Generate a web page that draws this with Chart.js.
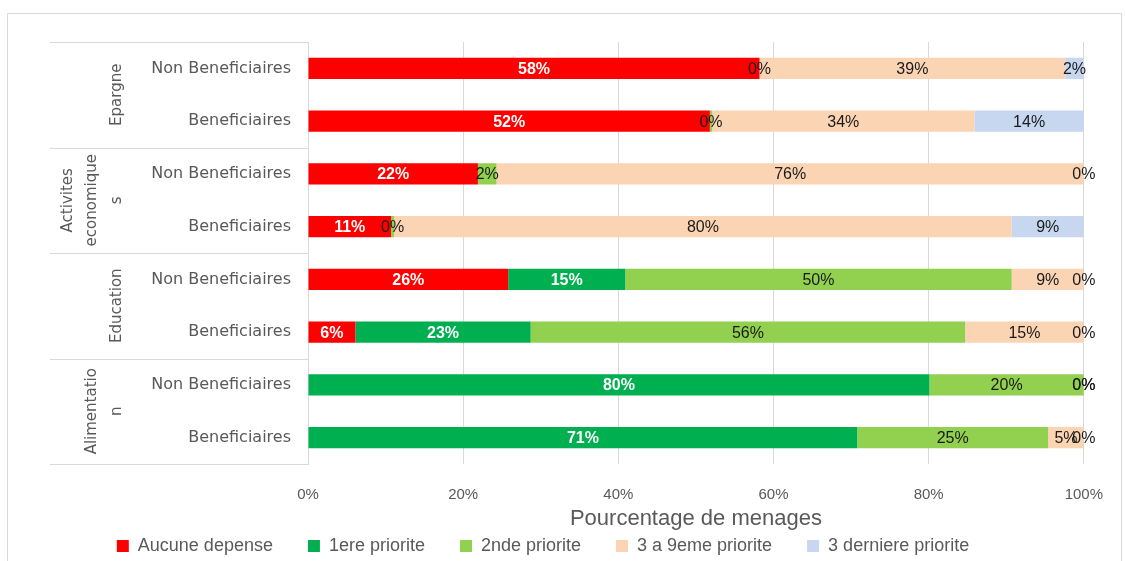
<!DOCTYPE html>
<html>
<head>
<meta charset="utf-8">
<script src="https://cdn.jsdelivr.net/npm/chart.js@4.4.1/dist/chart.umd.min.js"></script>
<style>
  html, body { margin: 0; padding: 0; background: #fff; }
  #wrap { width: 1125px; height: 561px; position: relative; }
</style>
</head>
<body>
<div id="wrap"><canvas id="prioChart" width="1125" height="561"></canvas></div>
<script>
// categories (top to bottom)
var rows = ['Non Beneficiaires', 'Beneficiaires', 'Non Beneficiaires', 'Beneficiaires',
            'Non Beneficiaires', 'Beneficiaires', 'Non Beneficiaires', 'Beneficiaires'];
var groups = [['Epargne'], ['Activites', 'economique', 's'], ['Education'], ['Alimentatio', 'n']];
var groupSize = 2;

// series values (% of households)
var aucune   = [58.2, 51.8, 21.9, 10.7, 25.8,  6.1, null, null];
var prio1    = [null, null, null, null, 15.1, 22.6, 80.1, 70.8];
var prio2    = [0,    0.3,  2.4,  0.4,  49.8, 56.0, 19.9, 24.6];
var prio3a9  = [39.4, 33.8, 75.7, 79.6,  9.3, 15.3, 0,    4.6];
var derniere = [2.4,  14.1, 0,    9.3,   0,    0,   0,    0];

var seriesNames = ['Aucune depense', '1ere priorite', '2nde priorite', '3 a 9eme priorite', '3 derniere priorite'];
var seriesColors = ['#FF0000', '#00B050', '#92D050', '#FBD4B4', '#C6D7EF'];
var xTicks = [0, 20, 40, 60, 80, 100];

var sans = "'Liberation Sans', sans-serif";
var gray = '#595959';
var lineGray = '#d9d9d9';

var allSeries = [aucune, prio1, prio2, prio3a9, derniere];
var datasets = allSeries.map(function (vals, i) {
   return {
      label: seriesNames[i],
      data: vals,
      backgroundColor: seriesColors[i],
      borderWidth: 0,
      barPercentage: 0.4,
      categoryPercentage: 1.0,
   };
});

// outer frame, group column and group labels
var framePlugin = {
   id: 'frame',
   beforeDraw: function (chart) {
      var ctx = chart.ctx;
      ctx.save();
      ctx.strokeStyle = lineGray;
      ctx.lineWidth = 1;
      ctx.strokeRect(7.5, 13.5, 1114, 560);
      ctx.restore();
   },
   afterDraw: function (chart) {
      var ctx = chart.ctx;
      var y = chart.scales.y;
      var area = chart.chartArea;
      var step = y.getPixelForValue(1) - y.getPixelForValue(0);
      ctx.save();
      ctx.strokeStyle = lineGray;
      ctx.lineWidth = 1;
      var left = 50;
      for (var g = 0; g <= groups.length; g++) {
         var py = Math.round(y.getPixelForValue(g * groupSize) - step / 2) + 0.5;
         ctx.beginPath();
         ctx.moveTo(left, py);
         ctx.lineTo(area.left, py);
         ctx.stroke();
      }
      ctx.fillStyle = gray;
      ctx.font = "15px 'DejaVu Sans', sans-serif";
      ctx.textAlign = 'center';
      ctx.textBaseline = 'middle';
      for (var k = 0; k < groups.length; k++) {
         var top = y.getPixelForValue(k * groupSize) - step / 2;
         var cy = top + step * groupSize / 2;
         var lines = groups[k];
         ctx.save();
         ctx.translate(117, cy);
         ctx.rotate(-Math.PI / 2);
         for (var l = 0; l < lines.length; l++) {
            var off = (lines.length - 1 - l) * 24.5;
            ctx.fillText(lines[l], 0, -off);
         }
         ctx.restore();
      }
      ctx.restore();
   },
};

// value labels centred in each segment
var labelPlugin = {
   id: 'segLabels',
   afterDatasetsDraw: function (chart) {
      var ctx = chart.ctx;
      ctx.save();
      ctx.textAlign = 'center';
      ctx.textBaseline = 'middle';
      chart.data.datasets.forEach(function (ds, i) {
         var meta = chart.getDatasetMeta(i);
         meta.data.forEach(function (bar, j) {
            var v = ds.data[j];
            if (v === null || v === undefined) return;
            if (i < 2) {
               ctx.fillStyle = '#ffffff';
               ctx.font = "bold 16px " + sans;
            } else {
               ctx.fillStyle = '#1a1a1a';
               ctx.font = "16px " + sans;
            }
            ctx.fillText(Math.round(v) + '%', (bar.x + bar.base) / 2, bar.y + 1);
         });
      });
      ctx.restore();
   },
};

new Chart('prioChart', {
   type: 'bar',
   data: { labels: rows, datasets: datasets },
   plugins: [framePlugin, labelPlugin],
   options: {
      indexAxis: 'y',
      responsive: false,
      animation: false,
      layout: { padding: { top: 42, right: 39, left: 0, bottom: 0 } },
      plugins: {
         legend: {
            position: 'bottom',
            maxHeight: 59,
            labels: {
               color: gray,
               font: { size: 18, family: sans },
               boxWidth: 12,
               boxHeight: 12,
               padding: 35,
            },
         },
         tooltip: { enabled: false },
      },
      scales: {
         x: {
            stacked: true,
            min: 0,
            max: 100,
            afterBuildTicks: function (s) {
               s.ticks = xTicks.map(function (v) { return { value: v }; });
            },
            afterFit: function (s) { s.height = 38; },
            grid: { color: lineGray, drawTicks: false },
            border: { display: false },
            ticks: {
               color: gray,
               font: { size: 15, family: sans },
               padding: 22,
               callback: function (v) { return v + '%'; },
            },
            title: {
               display: true,
               text: 'Pourcentage de menages',
               color: gray,
               font: { size: 22, family: sans, lineHeight: 1 },
               padding: { top: 0, bottom: -28 },
            },
         },
         y: {
            stacked: true,
            afterFit: function (s) { s.width = 308; },
            grid: { display: false, drawTicks: false },
            border: { display: true, color: lineGray },
            ticks: {
               color: gray,
               font: { size: 16, family: "'DejaVu Sans', sans-serif" },
               padding: 17,
            },
         },
      },
   },
});
</script>
</body>
</html>
